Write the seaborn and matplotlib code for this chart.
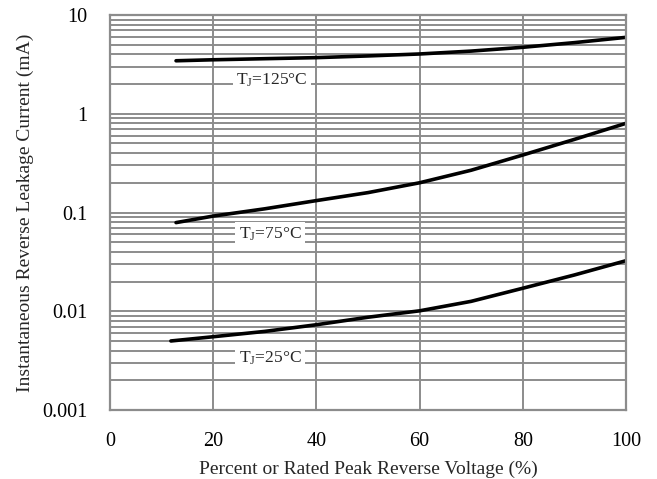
import matplotlib
import numpy as np
import pandas as pd
import matplotlib.pyplot as plt
import seaborn as sns
from matplotlib.ticker import LogLocator, NullFormatter, FixedLocator

sns.set_theme(style='white')
plt.rcParams['font.family'] = ['Liberation Serif', 'DejaVu Serif']
plt.rcParams['mathtext.fontset'] = 'custom'
plt.rcParams['mathtext.rm'] = 'Liberation Serif'
plt.rcParams['mathtext.it'] = 'Liberation Serif:italic'

# Curve data (percent of rated voltage, leakage in mA).
v_125 = [12.8, 20, 30, 40, 50, 60, 70, 80, 90, 100]
i_125 = [3.44, 3.52, 3.61, 3.70, 3.85, 4.03, 4.31, 4.71, 5.25, 5.94]
v_75 = [12.8, 20, 30, 40, 50, 60, 70, 80, 90, 100]
i_75 = [0.079, 0.092, 0.109, 0.132, 0.159, 0.200, 0.268, 0.382, 0.55, 0.80]
v_25 = [11.8, 20, 30, 40, 50, 60, 70, 80, 90, 100]
i_25 = [0.005, 0.00552, 0.00625, 0.0073, 0.0087, 0.0101, 0.0126, 0.0171, 0.0233, 0.0325]

labels = ['T$_\\mathregular{J}$=125°C',
          'T$_\\mathregular{J}$=75°C',
          'T$_\\mathregular{J}$=25°C']
label_x = [31.4, 31.0, 31.0]
label_y = [2.2, 0.0605, 0.00336]

xticks = [0, 20, 40, 60, 80, 100]
yticks = [0.001, 0.01, 0.1, 1, 10]
yticklabels = ['0.001', '0.01', '0.1', '1', '10']

df = pd.concat([
    pd.DataFrame({'v': v_125, 'i': i_125, 'tj': '125'}),
    pd.DataFrame({'v': v_75, 'i': i_75, 'tj': '75'}),
    pd.DataFrame({'v': v_25, 'i': i_25, 'tj': '25'}),
])

grid_c = '#8c8c8c'

fig = plt.figure(figsize=(6.57, 4.79), dpi=100)
ax = fig.add_axes([110 / 657, 1 - 410 / 479, 516 / 657, 395 / 479])

sns.lineplot(ax=ax, data=df, x='v', y='i', units='tj', estimator=None,
             color='black', linewidth=2.6, sort=True, legend=False)

ax.set_yscale('log')
ax.set_xlim(0, 100)
ax.set_ylim(0.001, 10)

ax.xaxis.set_major_locator(FixedLocator(xticks))
ax.set_xticklabels([str(t) for t in xticks])
ax.yaxis.set_major_locator(FixedLocator(yticks))
ax.set_yticklabels(yticklabels)
ax.yaxis.set_minor_locator(LogLocator(base=10, subs=np.arange(2, 10)))
ax.yaxis.set_minor_formatter(NullFormatter())

ax.grid(True, which='major', axis='both', color=grid_c, linewidth=1.4)
ax.grid(True, which='minor', axis='y', color=grid_c, linewidth=1.4)
ax.set_axisbelow(True)
for s in ax.spines.values():
    s.set_color(grid_c)
    s.set_linewidth(1.6)

ax.tick_params(axis='both', which='both', length=0, labelsize=14.5, colors='black')
ax.tick_params(axis='x', pad=16)
ax.tick_params(axis='y', pad=16)

for lab, lx, ly in zip(labels, label_x, label_y):
    ax.text(lx, ly, lab, fontsize=12.5, ha='center', va='center',
            bbox=dict(facecolor='white', edgecolor='none', pad=2.5))

ax.set_xlabel('Percent or Rated Peak Reverse Voltage (%)', fontsize=14, labelpad=7)
ax.set_ylabel('Instantaneous Reverse Leakage Current (mA)', fontsize=14, labelpad=6)

fig.savefig('out.png', dpi=100)
